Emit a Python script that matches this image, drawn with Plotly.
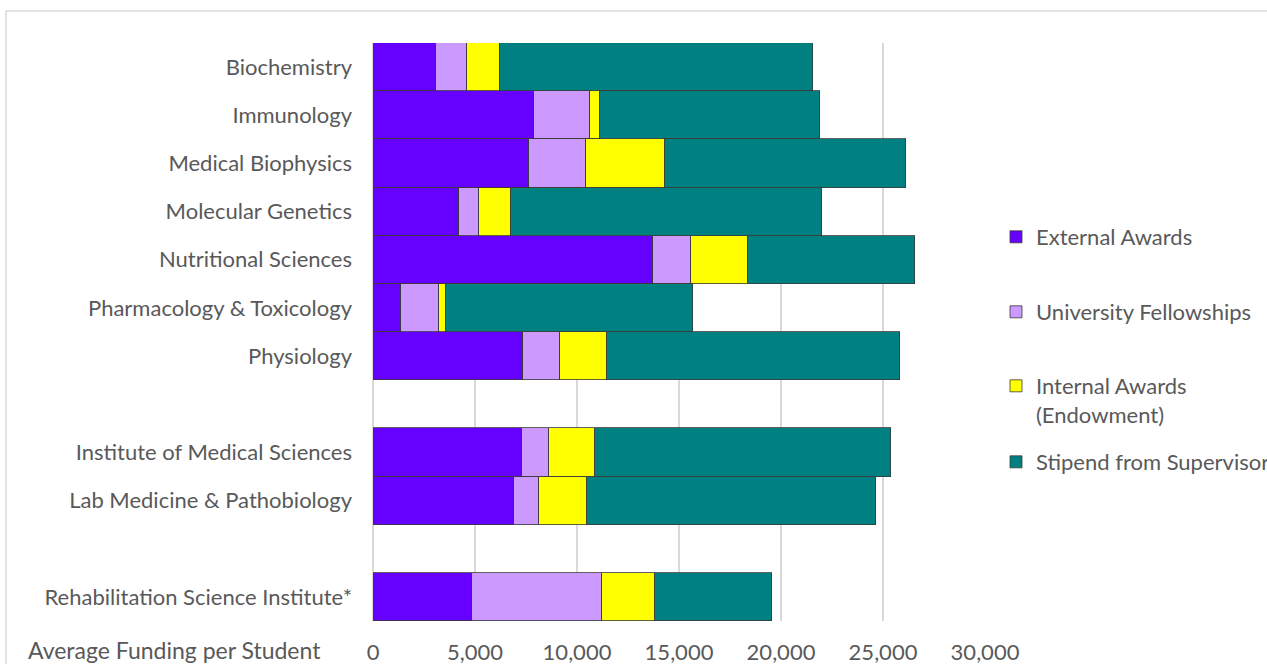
import plotly.graph_objects as go

# Departments, top to bottom; blank entries separate the three groups
departments = [
    "Biochemistry",
    "Immunology",
    "Medical Biophysics",
    "Molecular Genetics",
    "Nutritional Sciences",
    "Pharmacology & Toxicology",
    "Physiology",
    " ",
    "Institute of Medical Sciences",
    "Lab Medicine & Pathobiology",
    "  ",
    "Rehabilitation Science Institute*",
]

# Average funding per student by source (dollars)
external_awards = [3070, 7870, 7670, 4200, 13710, 1390, 7350, None, 7320, 6890, None, 4830]
university_fellowships = [1550, 2780, 2750, 990, 1880, 1860, 1810, None, 1320, 1240, None, 6380]
internal_awards = [1600, 470, 3910, 1570, 2770, 310, 2320, None, 2230, 2350, None, 2620]
supervisor_stipend = [15350, 10770, 11790, 15230, 8230, 12140, 14360, None, 14520, 14200, None, 5730]

series = [
    ("External Awards", external_awards, "#6600FF"),
    ("University Fellowships", university_fellowships, "#CC99FF"),
    ("Internal Awards<br>(Endowment)", internal_awards, "#FFFF00"),
    ("Stipend from Supervisor", supervisor_stipend, "#008080"),
]

x_ticks = [0, 5000, 10000, 15000, 20000, 25000, 30000]

FONT = "Lato"
TEXT = "#595959"
SIZE = 22

W, H = 1267, 664
L, R, T, B = 373, 985, 43, 621


def px_x(px):
    return (px - L) / (R - L)


def px_y(py):
    return 1 - (py - T) / (B - T)


# vertical pixel position of each legend entry's first text line
legend_rows = [236, 311, 385, 461]
legend_names = ["legend", "legend2", "legend3", "legend4"]

fig = go.Figure()
for (name, values, color), lg in zip(series, legend_names):
    fig.add_trace(go.Bar(
        y=departments,
        x=values,
        name=name,
        orientation="h",
        marker=dict(color=color, line=dict(color="#3a3a3a", width=0.8)),
        legend=lg,
    ))

legend_layout = {}
for lg, row in zip(legend_names, legend_rows):
    legend_layout[lg] = dict(
        x=px_x(996),
        xanchor="left",
        y=px_y(row - 20),
        yanchor="top",
        font=dict(family=FONT, size=SIZE, color=TEXT),
        valign="top",
        bgcolor="rgba(0,0,0,0)",
    )

fig.update_layout(
    width=W,
    height=H,
    barmode="stack",
    bargap=0,
    paper_bgcolor="white",
    plot_bgcolor="white",
    margin=dict(l=L, r=W - R, t=T, b=H - B, autoexpand=False),
    font=dict(family=FONT, size=SIZE, color=TEXT),
    showlegend=True,
    xaxis=dict(
        range=[0, 30000],
        tickvals=x_ticks,
        tickformat=",d",
        showgrid=True,
        gridcolor="#d9d9d9",
        gridwidth=1.5,
        zeroline=True,
        zerolinecolor="#d9d9d9",
        zerolinewidth=1.5,
        showline=False,
        ticks="",
        ticklabelstandoff=16,
        tickfont=dict(family=FONT, size=SIZE, color=TEXT),
        fixedrange=True,
    ),
    yaxis=dict(
        categoryorder="array",
        categoryarray=departments,
        autorange="reversed",
        showgrid=False,
        zeroline=False,
        showline=False,
        ticks="",
        ticklabelstandoff=20,
        tickfont=dict(family=FONT, size=SIZE, color=TEXT),
        fixedrange=True,
    ),
    **legend_layout,
)

# Axis caption at the left of the tick labels
fig.add_annotation(
    text="Average Funding per Student",
    xref="paper", yref="paper",
    x=px_x(26), xanchor="left",
    y=px_y(650), yanchor="middle",
    showarrow=False,
    font=dict(family=FONT, size=23, color=TEXT),
)

# Chart-area border
fig.add_shape(
    type="rect",
    xref="paper", yref="paper",
    x0=px_x(6), x1=px_x(1290),
    y0=px_y(690), y1=px_y(11),
    line=dict(color="#d9d9d9", width=1.5),
    fillcolor="rgba(0,0,0,0)",
    layer="below",
)

fig.write_html("out.html")
